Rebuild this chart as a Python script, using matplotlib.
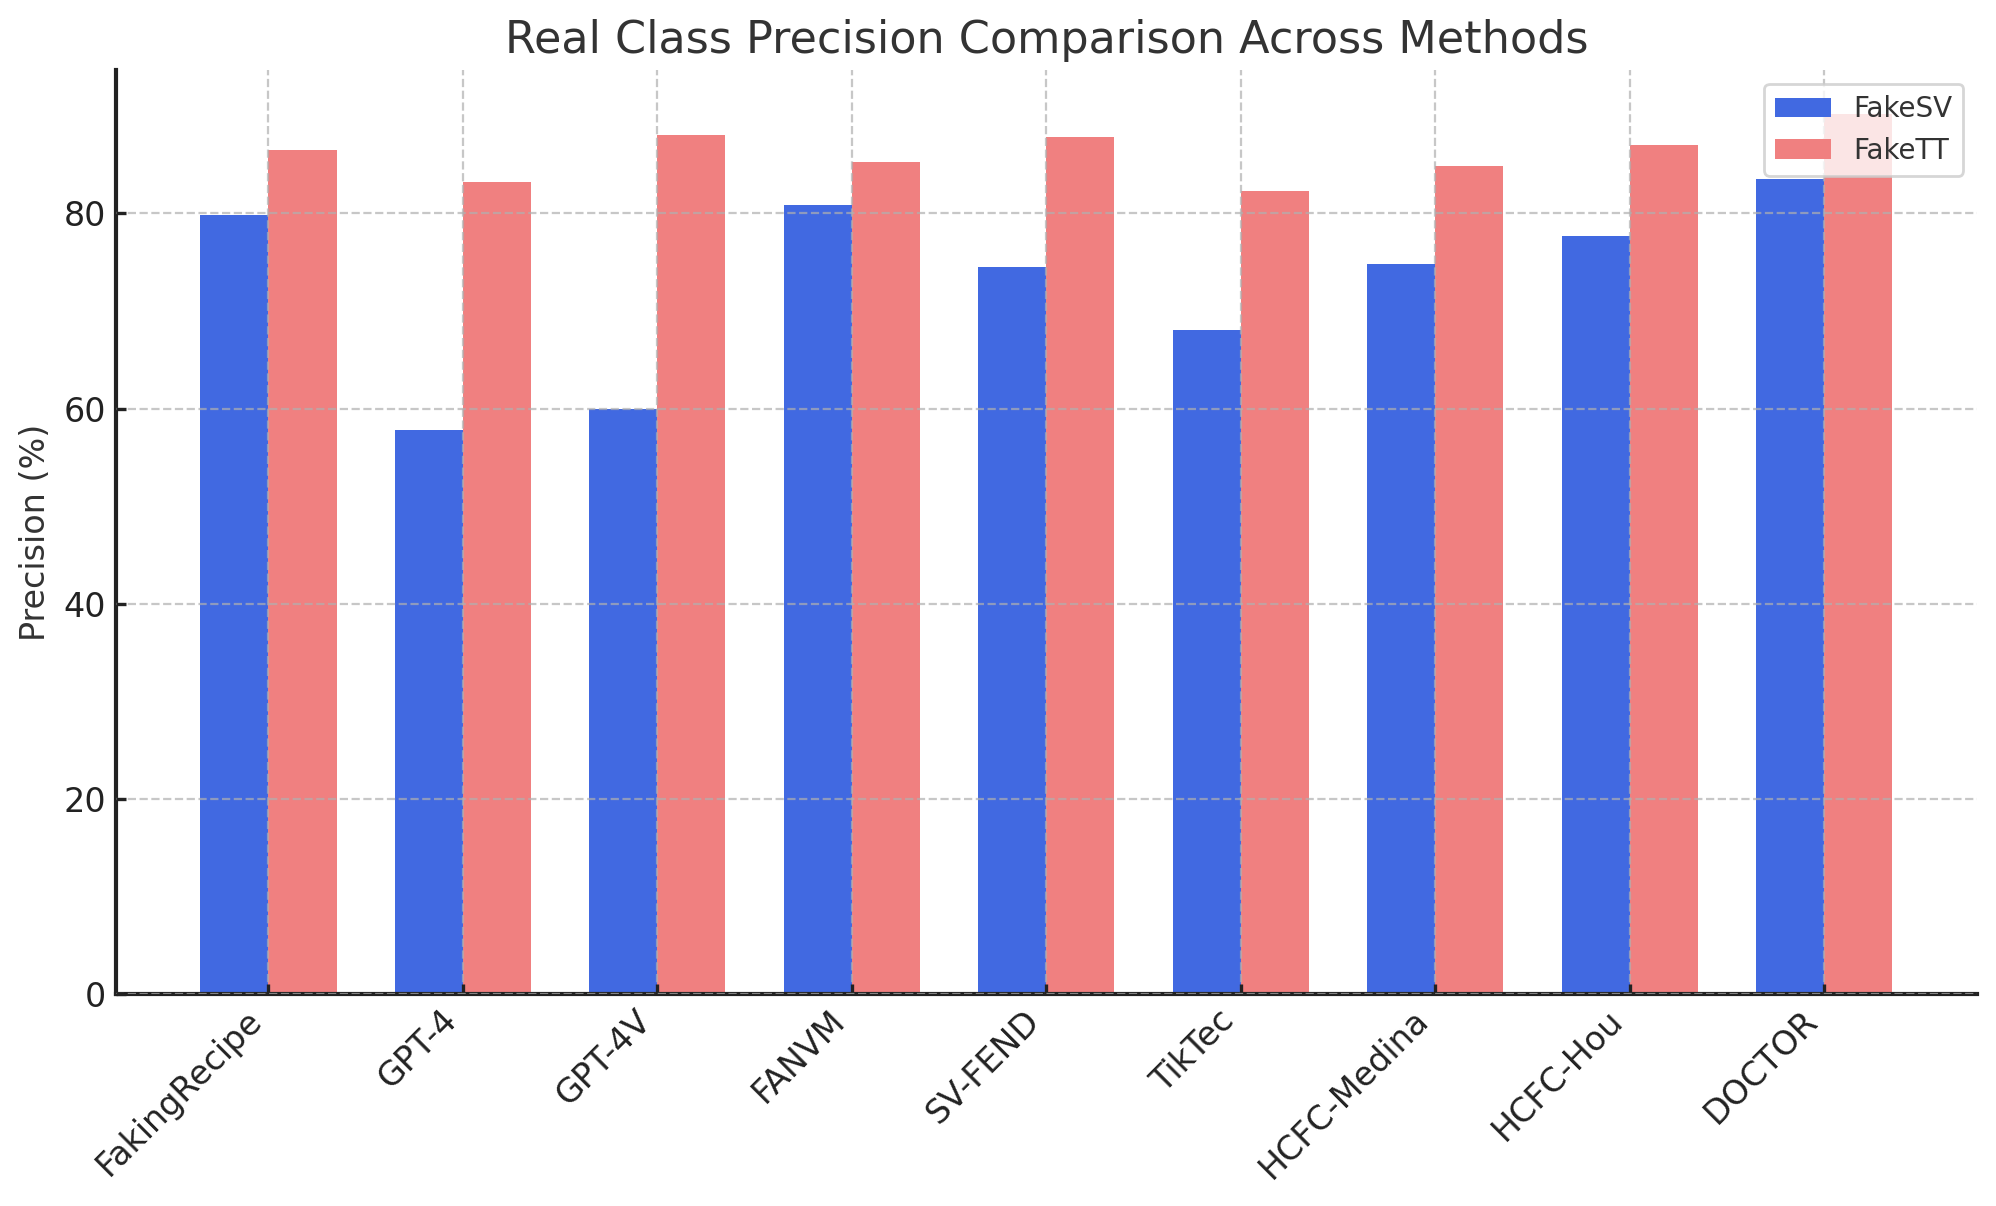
import matplotlib
matplotlib.use("Agg")
import matplotlib.pyplot as plt
import numpy as np

methods = ["FakingRecipe", "GPT-4", "GPT-4V", "FANVM", "SV-FEND", "TikTec",
           "HCFC-Medina", "HCFC-Hou", "DOCTOR"]
fakesv = [79.8, 57.8, 60.0, 80.9, 74.5, 68.1, 74.8, 77.7, 83.5]
fakett = [86.5, 83.2, 88.0, 85.3, 87.8, 82.3, 84.9, 87.0, 90.2]

plt.rcParams['font.family'] = ['DejaVu Sans']

fig = plt.figure(figsize=(9.98, 6.03), dpi=200)
ax = fig.add_axes([0.058, 0.1758, 0.9325, 0.7662])

x = np.arange(len(methods))
w = 0.35
ax.bar(x - w / 2, fakesv, w, color="#4169E1", label="FakeSV")
ax.bar(x + w / 2, fakett, w, color="#F08080", label="FakeTT")

ax.set_xticks(x)
ax.set_xticklabels(methods, rotation=45, ha="right", fontsize=12, color="#222222")
ax.tick_params(axis="y", labelsize=12, labelcolor="#222222")
ax.tick_params(direction="in", length=3.5, width=1.2, color="#222222")
ax.set_ylabel("Precision (%)", fontsize=12, color="#333333")
ax.set_title("Real Class Precision Comparison Across Methods", fontsize=16, color="#333333")

ax.grid(True, linestyle="--", alpha=0.7, color="#b0b0b0")
ax.set_axisbelow(False)

for s in ["top", "right"]:
    ax.spines[s].set_visible(False)
for s in ["left", "bottom"]:
    ax.spines[s].set_linewidth(1.5)
    ax.spines[s].set_color("#222222")

leg = ax.legend(loc="upper right", fontsize=10)
for t in leg.get_texts():
    t.set_color("#333333")

fig.savefig("out.png", dpi=200)
